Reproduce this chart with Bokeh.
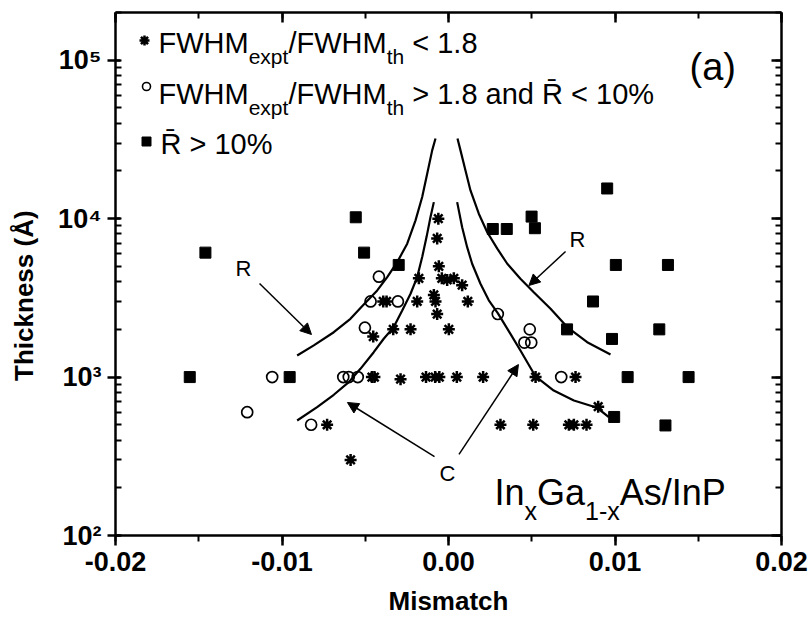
from bokeh.plotting import figure
from bokeh.models import (Range1d, LinearAxis, LogAxis, SingleIntervalTicker, LogTicker,
                          CustomJSTickFormatter, Label, Arrow, NormalHead)
from bokeh.embed import file_html
from bokeh.resources import INLINE
import math

# ---------------- data ----------------
# FWHM_expt/FWHM_th < 1.8  (asterisks)
star_x = [-0.00061, -0.00068, -0.00058, -0.00178, -0.00040, -0.00008, 0.00032, 0.00082,
          -0.00392, -0.00372, -0.00188, -0.00088, -0.00078, -0.00068, 0.00116,
          -0.00452, -0.00332, -0.00228, 0.00002,
          -0.00460, -0.00445, -0.00288, -0.00135, -0.00080, -0.00055, 0.00050, 0.00208, 0.00523, 0.00763,
          0.00899,
          -0.00729, 0.00312, 0.00509, 0.00723, 0.00753, 0.00829,
          -0.00588]
star_y = [10000, 7500, 5000, 4200, 4200, 4100, 4200, 3800,
          3000, 3000, 3000, 3300, 3000, 2500, 3000,
          1800, 2000, 2000, 2000,
          1000, 1000, 970, 1000, 1000, 1000, 1000, 1000, 1000, 1000,
          650,
          500, 500, 500, 500, 500, 500,
          300]
# FWHM_expt/FWHM_th > 1.8 and R < 10%  (open circles)
circ_x = [-0.00418, -0.00468, -0.00304, -0.00502, -0.01059, -0.00632, -0.00599, -0.00545,
          -0.01209, -0.00825, 0.00296, 0.00488, 0.00456, 0.00497, 0.00677]
circ_y = [4300, 3000, 3000, 2050, 1000, 1000, 1000, 1000,
          600, 500, 2500, 2000, 1650, 1650, 1000]
# R > 10%  (filled squares)
sq_x = [-0.01554, -0.01460, -0.00954, -0.00557, -0.00507, -0.00299,
        0.00266, 0.00350, 0.00499, 0.00519, 0.00953, 0.01005, 0.01318,
        0.00868, 0.00712, 0.01266, 0.00982, 0.01076, 0.01442, 0.00995, 0.01303]
sq_y = [1000, 6100, 1000, 10200, 6100, 5100,
        8600, 8600, 10300, 8700, 15500, 5100, 5100,
        3000, 2000, 2000, 1740, 1000, 1000, 560, 495]

# critical-thickness curves (R outer, C inner)
rl_x = [-0.00909, -0.00809, -0.00689, -0.00589, -0.00509, -0.00428, -0.00368, -0.00308,
        -0.00248, -0.00198, -0.00158, -0.00128, -0.00098, -0.00078]
rl_y = [1368, 1584, 1919, 2332, 2873, 3522, 4276, 5314, 6945, 9750, 13680, 19190, 26960, 32060]
rr_x = [0.00054, 0.00072, 0.00102, 0.00132, 0.00182, 0.00232, 0.00293, 0.00353, 0.00432,
        0.00512, 0.00613, 0.00713, 0.00833, 0.00973]
rr_y = [32060, 26960, 20150, 15060, 10740, 8230, 6460, 5190, 4180, 3434, 2697, 2067, 1660, 1390]
cl_x = [-0.00909, -0.00789, -0.00689, -0.00599, -0.00529, -0.00449, -0.00389, -0.00329,
        -0.00278, -0.00228, -0.00188, -0.00158, -0.00132, -0.00108, -0.00088]
cl_y = [532, 646, 773, 929, 1127, 1435, 1745, 2067, 2633, 3356, 4276, 5718, 7645, 10230, 12710]
cr_x = [0.00052, 0.00082, 0.00112, 0.00142, 0.00192, 0.00242, 0.00296, 0.00372, 0.00432,
        0.00523, 0.00632, 0.00753, 0.00893, 0.00963]
cr_y = [12710, 8830, 6607, 5190, 3881, 3050, 2530, 1875, 1472, 1009, 822, 711, 640, 558]

# arrows (x_start, y_start, x_end, y_end) in data units
arrows = [(-0.01135, 3896, -0.00823, 1856),
          (0.00703, 6201, 0.00483, 3785),
          (-0.00084, 315, -0.00607, 691),
          (0.00063, 325, 0.00420, 1200)]

x_ticks_interval = 0.01
sup_digits = ["\u2070", "\u00b9", "\u00b2", "\u00b3", "\u2074", "\u2075", "\u2076", "\u2077", "\u2078", "\u2079"]

# ---------------- layout constants ----------------
W, H = 811, 626
FL, FR, FT, FB = 115, 781, 12, 535
X0, X1, Y0, Y1 = -0.02, 0.02, 100.0, 2.0e5
FONT = "Liberation Sans"
TEXT_SHIFT = 7   # px correction for baseline placement
TICK = "black"

def px2x(px):
    return X0 + (px - FL) / (FR - FL) * (X1 - X0)
def px2y(py):
    l0, l1 = math.log10(Y0), math.log10(Y1)
    return 10 ** (l0 + (FB - py) / (FB - FT) * (l1 - l0))

# Arial / Liberation Sans advance widths (em)
CW = {'F': .611, 'W': .944, 'H': .722, 'M': .833, 'e': .556, 'x': .5, 'p': .556, 't': .278,
      'h': .556, '/': .278, ' ': .278, '<': .584, '>': .584, '1': .556, '.': .278, '8': .556,
      'a': .556, 'n': .556, 'd': .556, 'R': .722, '0': .556, '%': .889, 'I': .278, 'G': .778,
      '-': .333, 'A': .667, 's': .5, 'P': .667, '\u0304': 0.0}
def tw(s, size):
    return sum(CW.get(c, .556) for c in s) * size

p = figure(width=W, height=H, x_range=Range1d(X0, X1), y_range=Range1d(Y0, Y1),
           y_axis_type="log", output_backend="svg", toolbar_location=None,
           min_border_left=FL, min_border_right=W - FR, min_border_top=FT, min_border_bottom=H - FB)
p.xgrid.visible = False
p.ygrid.visible = False
p.outline_line_color = None
p.background_fill_color = "white"
p.border_fill_color = "white"

# bottom axis
xa = p.xaxis[0]
xa.ticker = SingleIntervalTicker(interval=x_ticks_interval, num_minor_ticks=2)
xa.formatter = CustomJSTickFormatter(code="return Math.abs(tick) < 1e-9 ? '0.00' : tick.toFixed(2);")
xa.axis_label = "Mismatch"
xa.major_tick_in = 0
xa.major_tick_out = 10
xa.minor_tick_in = 0
xa.minor_tick_out = 6
xa.major_label_standoff = 6
xa.axis_label_standoff = 12

# left axis
ya = p.yaxis[0]
ya.ticker = LogTicker(num_minor_ticks=10)
ya.formatter = CustomJSTickFormatter(
    args=dict(sup=sup_digits),
    code="const e = Math.round(Math.log10(tick)); return '10' + sup[e];")
# trailing no-break spaces move the centred title toward the bottom, as in the original
ya.axis_label = "Thickness (\u00c5)" + "\u00a0" * 6
ya.major_tick_in = 5
ya.major_tick_out = 8
ya.minor_tick_in = 6
ya.minor_tick_out = 0
ya.major_label_standoff = 6
ya.axis_label_standoff = 16

for ax in (xa, ya):
    ax.axis_line_width = 2.5
    ax.major_tick_line_width = 2.5
    ax.minor_tick_line_width = 2
    ax.major_tick_line_color = TICK
    ax.minor_tick_line_color = TICK
    ax.major_label_text_font = FONT
    ax.major_label_text_font_style = "bold"
    ax.major_label_text_font_size = "27px"
    ax.major_label_text_color = "black"
    ax.axis_label_text_font = FONT
    ax.axis_label_text_font_style = "bold"
    ax.axis_label_text_font_size = "26px"
    ax.axis_label_text_color = "black"

# mirrored axes (ticks pointing inward, no labels)
top = LinearAxis(ticker=SingleIntervalTicker(interval=x_ticks_interval, num_minor_ticks=2),
                 formatter=CustomJSTickFormatter(code="return '';"))
right = LogAxis(ticker=LogTicker(num_minor_ticks=10),
                formatter=CustomJSTickFormatter(code="return '';"))
for ax in (top, right):
    ax.axis_line_width = 2.5
    ax.major_tick_in = 10
    ax.major_tick_out = 0
    ax.minor_tick_in = 6
    ax.minor_tick_out = 0
    ax.major_tick_line_width = 2.5
    ax.minor_tick_line_width = 2
    ax.major_tick_line_color = TICK
    ax.minor_tick_line_color = TICK
    ax.major_label_text_font_size = "1px"
    ax.major_label_standoff = 0
p.add_layout(top, "above")
p.add_layout(right, "right")

# curves
for cx, cy in ((rl_x, rl_y), (rr_x, rr_y), (cl_x, cl_y), (cr_x, cr_y)):
    p.line(cx, cy, line_color="black", line_width=2.2)

# data points
p.scatter(sq_x, sq_y, marker="square", size=11, fill_color="black", line_color="black")
p.scatter(circ_x, circ_y, marker="circle", size=11, fill_color=None, line_color="black", line_width=1.7)
p.scatter(star_x, star_y, marker="asterisk", size=12, line_color="black", line_width=2.5)

# arrows
for xs, ys, xe, ye in arrows:
    p.add_layout(Arrow(end=NormalHead(size=11, fill_color="black", line_color="black", line_width=1),
                       x_start=xs, y_start=ys, x_end=xe, y_end=ye, line_width=1.5, line_color="black"))

def put(px, py, s, size, style="normal"):
    p.add_layout(Label(x=px2x(px), y=px2y(py - TEXT_SHIFT), text=s, text_font=FONT,
                       text_font_size=f"{size}px", text_font_style=style, text_baseline="alphabetic",
                       text_align="left", text_color="black"))

def put_pieces(px, py, pieces):
    x = px
    for s, size, drop in pieces:
        lead = len(s) - len(s.lstrip(" "))
        x += tw(" " * lead, size)
        s2 = s.lstrip(" ")
        put(x, py + drop, s2, size)
        x += tw(s2, size)

# legend
MAIN, SUB, DROP = 29, 21, 14
put_pieces(158, 49, [("FWHM", MAIN, 0), ("expt", SUB, DROP), ("/FWHM", MAIN, 0), ("th", SUB, DROP),
                     (" < 1.8", MAIN, 0)])
put_pieces(158, 100, [("FWHM", MAIN, 0), ("expt", SUB, DROP), ("/FWHM", MAIN, 0), ("th", SUB, DROP),
                      (" > 1.8 and R\u0304 < 10%", MAIN, 0)])
put_pieces(160, 150, [("R\u0304 > 10%", MAIN, 0)])
p.scatter([px2x(144)], [px2y(40)], marker="asterisk", size=10, line_color="black", line_width=2.5)
p.scatter([px2x(146)], [px2y(86)], marker="circle", size=8, fill_color=None, line_color="black", line_width=1.6)
p.scatter([px2x(146)], [px2y(141)], marker="square", size=9, fill_color="black", line_color="black")

# other labels
put(689, 73, "(a)", 38)
put(235, 275, "R", 22)
put(569, 246, "R", 22)
put(439, 480, "C", 22)
put_pieces(494, 499, [("In", 36, 0), ("x", 25, 18), ("Ga", 36, 0), ("1-x", 25, 18), ("As/InP", 36, 0)])

open("out.html", "w").write(file_html(p, INLINE))
